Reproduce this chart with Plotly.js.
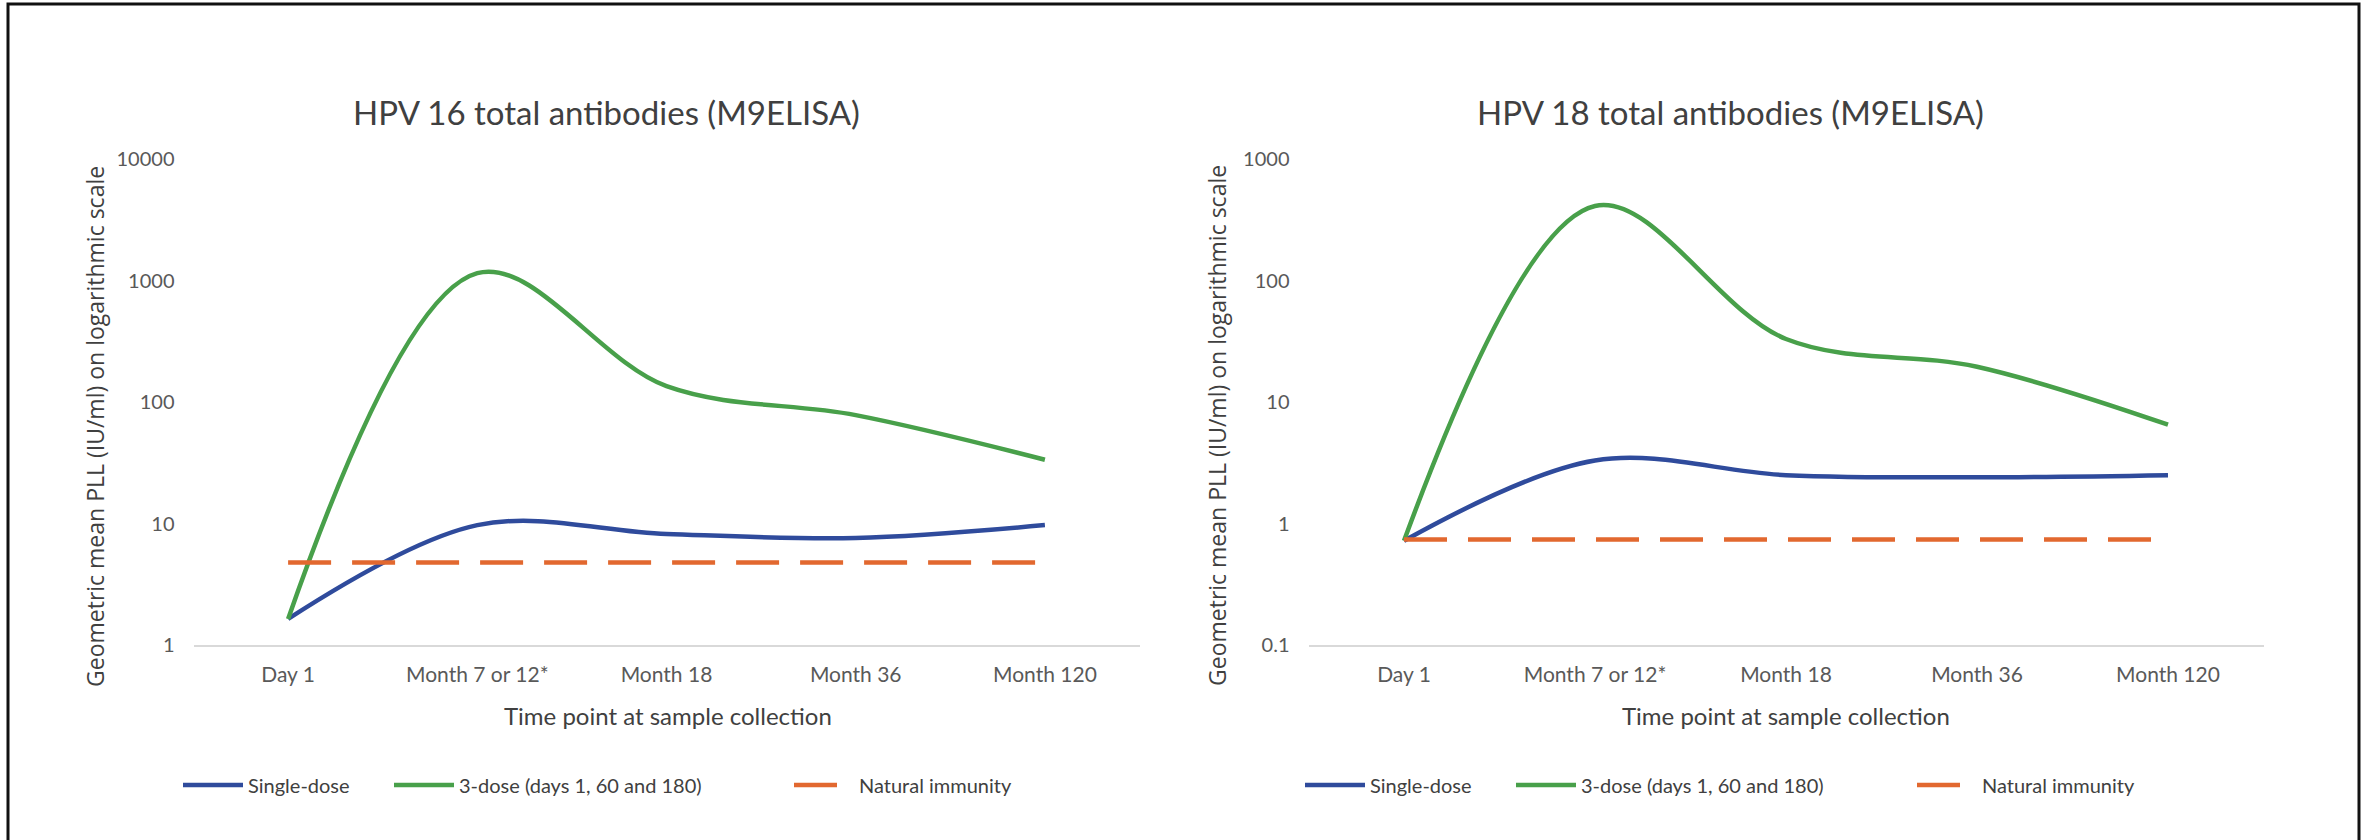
<!DOCTYPE html>
<html>
<head>
<meta charset="utf-8">
<script src="https://cdn.plot.ly/plotly-3.0.1.min.js"></script>
<style>
  html, body { margin: 0; padding: 0; background: #fff; }
  #chart { width: 2374px; height: 840px; }
</style>
</head>
<body>
<div id="chart"></div>
<script>
// ---- data ----
const timePoints = ["Day 1", "Month 7 or 12*", "Month 18", "Month 36", "Month 120"];

const hpv16Single = [1.64, 9.7, 8.2, 7.6, 9.7];
const hpv16ThreeDose = [1.64, 1150, 135, 78, 33.5];
const hpv16Natural = [4.77, 4.77, 4.77, 4.77, 4.77];

const hpv18Single = [0.72, 3.3, 2.5, 2.4, 2.5];
const hpv18ThreeDose = [0.72, 410, 33, 19.5, 6.5];
const hpv18Natural = [0.74, 0.74, 0.74, 0.74, 0.74];

const hpv16Ticks = [1, 10, 100, 1000, 10000];
const hpv16TickText = ["1", "10", "100", "1000", "10000"];
const hpv18Ticks = [0.1, 1, 10, 100, 1000];
const hpv18TickText = ["0.1", "1", "10", "100", "1000"];

const seriesNames = ["Single-dose", "3-dose (days 1, 60 and 180)", "Natural immunity"];
const chartTitles = ["HPV 16 total antibodies (M9ELISA)", "HPV 18 total antibodies (M9ELISA)"];
const yTitle = "Geometric mean PLL (IU/ml) on logarithmic scale";
const xTitle = "Time point at sample collection";

// ---- styling ----
const W = 2374, H = 840;
const BLUE = "#2f4b9c", GREEN = "#48a04a", ORANGE = "#e2682f";
const FONT = "Lato, 'Open Sans', sans-serif";
const px = v => v / W;
const py = v => 1 - v / H;

function line(x, y, name, color, xa, ya, leg, dash) {
  return {
    x: x, y: y, name: name, type: "scatter", mode: "lines",
    xaxis: xa, yaxis: ya, legend: leg, showlegend: true,
    line: { color: color, width: 4.5, shape: dash ? "linear" : "spline", smoothing: 1, dash: dash || "solid" },
    hoverinfo: "x+y+name"
  };
}

const DASH = "43px,21px";
const traces = [
  line(timePoints, hpv16Single, seriesNames[0], BLUE, "x", "y", "legend"),
  line(timePoints, hpv16ThreeDose, seriesNames[1], GREEN, "x", "y", "legend2"),
  line(timePoints, hpv16Natural, seriesNames[2], ORANGE, "x", "y", "legend3", DASH),
  line(timePoints, hpv18Single, seriesNames[0], BLUE, "x2", "y2", "legend4"),
  line(timePoints, hpv18ThreeDose, seriesNames[1], GREEN, "x2", "y2", "legend5"),
  line(timePoints, hpv18Natural, seriesNames[2], ORANGE, "x2", "y2", "legend6", DASH)
];

function xaxis(domain, anchor) {
  return {
    domain: domain, anchor: anchor, type: "category", range: [-0.5, 4.5],
    showline: true, linecolor: "#d9d9d9", linewidth: 2,
    showgrid: false, zeroline: false, ticks: "",
    tickfont: { family: FONT, size: 21, color: "#595959" },
    ticklabelstandoff: 10, fixedrange: true
  };
}
function yaxis(domain, anchor, range, vals, text) {
  return {
    domain: domain, anchor: anchor, type: "log", range: range,
    tickmode: "array", tickvals: vals, ticktext: text,
    showline: false, showgrid: false, zeroline: false, ticks: "",
    tickfont: { family: FONT, size: 20, color: "#595959" },
    ticklabelstandoff: 18, fixedrange: true
  };
}

const legFont = { family: FONT, size: 20, color: "#404040" };
function leg(xpix) {
  return {
    visible: true,
    x: px(xpix), y: py(785), xanchor: "left", yanchor: "middle",
    orientation: "h", font: legFont, bgcolor: "rgba(0,0,0,0)",
    itemwidth: 60, borderwidth: 0
  };
}

function ann(text, xpix, ypix, size, color, angle, family) {
  return {
    text: text, x: px(xpix), y: py(ypix), xref: "paper", yref: "paper",
    xanchor: "center", yanchor: "middle", showarrow: false,
    textangle: angle || 0,
    font: { family: family || FONT, size: size, color: color }
  };
}

const yDom = [py(645), py(159)];
const layout = {
  width: W, height: H,
  showlegend: true,
  margin: { l: 0, r: 0, t: 0, b: 0 },
  paper_bgcolor: "#ffffff", plot_bgcolor: "#ffffff",
  xaxis: xaxis([px(193.5), px(1139.5)], "y"),
  yaxis: yaxis(yDom, "x", [0, 4], hpv16Ticks, hpv16TickText),
  xaxis2: xaxis([px(1308.5), px(2263.5)], "y2"),
  yaxis2: yaxis(yDom, "x2", [-1, 3], hpv18Ticks, hpv18TickText),
  legend: leg(178),
  legend2: leg(389),
  legend3: leg(789),
  legend4: leg(1300),
  legend5: leg(1511),
  legend6: leg(1912),
  annotations: [
    ann(chartTitles[0], 607, 112, 33, "#404040"),
    ann(chartTitles[1], 1730, 112, 33, "#404040"),
    ann(yTitle, 95, 427, 23, "#404040", -90, "'Open Sans', sans-serif"),
    ann(yTitle, 1217, 426, 23, "#404040", -90, "'Open Sans', sans-serif"),
    ann(xTitle, 668, 715, 24, "#404040"),
    ann(xTitle, 1786, 715, 24, "#404040")
  ],
  shapes: [
    { type: "rect", xref: "paper", yref: "paper",
      x0: px(8), x1: px(2359), y0: -0.05, y1: py(4),
      line: { color: "#111111", width: 3 }, fillcolor: "rgba(0,0,0,0)" }
  ]
};

Plotly.newPlot("chart", traces, layout, { displayModeBar: false, staticPlot: true });
</script>
</body>
</html>
